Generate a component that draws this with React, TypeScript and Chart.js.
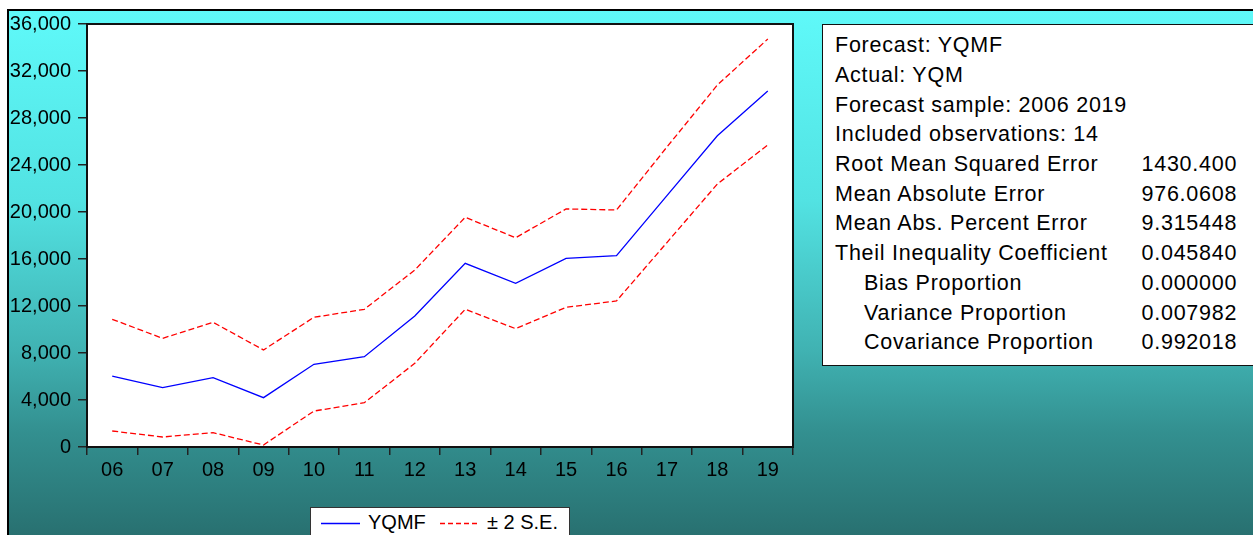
import React, { useEffect, useRef } from "react";
import { Chart, registerables } from "chart.js";

Chart.register(...registerables);

// ---- data ----
const xLabels = ["06", "07", "08", "09", "10", "11", "12", "13", "14", "15", "16", "17", "18", "19"];
const yqmf = [6040, 5050, 5900, 4200, 7040, 7690, 11150, 15630, 13930, 16060, 16280, 21390, 26490, 30300];
const upperSE = [10870, 9250, 10610, 8260, 11040, 11720, 15060, 19550, 17810, 20260, 20170, 25530, 30810, 34720];
const lowerSE = [1360, 850, 1220, 170, 3060, 3770, 7120, 11720, 10070, 11890, 12430, 17400, 22380, 25700];
const yTicks = [0, 4000, 8000, 12000, 16000, 20000, 24000, 28000, 32000, 36000];

const headerLines = [
  "Forecast: YQMF",
  "Actual: YQM",
  "Forecast sample: 2006 2019",
  "Included observations: 14",
];
const statLabels = [
  "Root Mean Squared Error",
  "Mean Absolute Error",
  "Mean Abs. Percent Error",
  "Theil Inequality Coefficient",
  "Bias Proportion",
  "Variance Proportion",
  "Covariance Proportion",
];
const statValues = ["1430.400", "976.0608", "9.315448", "0.045840", "0.000000", "0.007982", "0.992018"];
const statIndented = [false, false, false, false, true, true, true];

const legendLabels = ["YQMF", "± 2 S.E."];

const FONT = "'Liberation Sans', Arial, sans-serif";

const framePlugin = {
  id: "frame",
  beforeDraw(chart: any) {
    const { ctx, chartArea } = chart;
    const { left, top, right, bottom } = chartArea;
    ctx.save();
    ctx.fillStyle = "#ffffff";
    ctx.fillRect(left, top, right - left, bottom - top);
    ctx.restore();
  },
  afterDatasetsDraw(chart: any) {
    const { ctx, chartArea } = chart;
    const { left, top, right, bottom } = chartArea;
    ctx.save();
    ctx.strokeStyle = "#111";
    ctx.lineWidth = 2;
    ctx.strokeRect(left, top, right - left, bottom - top);
    ctx.restore();
  },
};

export default function App() {
  const canvasRef = useRef<HTMLCanvasElement | null>(null);

  useEffect(() => {
    if (!canvasRef.current) return;
    const chart = new Chart(canvasRef.current, {
      type: "line",
      data: {
        labels: xLabels,
        datasets: [
          {
            label: legendLabels[0],
            data: yqmf,
            borderColor: "#0000ff",
            borderWidth: 1.3,
            pointRadius: 0,
            tension: 0,
            fill: false,
          },
          {
            label: legendLabels[1],
            data: upperSE,
            borderColor: "#ff0000",
            borderWidth: 1.3,
            borderDash: [6, 3],
            pointRadius: 0,
            tension: 0,
            fill: false,
          },
          {
            label: "lower",
            data: lowerSE,
            borderColor: "#ff0000",
            borderWidth: 1.3,
            borderDash: [6, 3],
            pointRadius: 0,
            tension: 0,
            fill: false,
          },
        ],
      },
      options: {
        responsive: false,
        maintainAspectRatio: false,
        animation: false,
        devicePixelRatio: 1,
        layout: { padding: { left: 0, top: 24, right: 460, bottom: 0 } },
        plugins: {
          legend: { display: false },
          tooltip: { enabled: false },
          title: { display: false },
        },
        scales: {
          x: {
            type: "category",
            offset: true,
            grid: {
              offset: true,
              drawOnChartArea: false,
              drawTicks: true,
              tickLength: 8,
              color: "#222",
              lineWidth: 1.5,
            },
            border: { display: false },
            ticks: {
              autoSkip: false,
              maxRotation: 0,
              padding: 3,
              color: "#000",
              font: { family: FONT, size: 20 },
            },
            afterFit: (scale: any) => {
              scale.height = 88;
            },
          },
          y: {
            min: 0,
            max: 36000,
            afterBuildTicks: (scale: any) => {
              scale.ticks = yTicks.map((v) => ({ value: v }));
            },
            grid: {
              drawOnChartArea: false,
              drawTicks: true,
              tickLength: 9,
              color: "#222",
              lineWidth: 1.5,
            },
            border: { display: false },
            ticks: {
              padding: 7,
              color: "#000",
              font: { family: FONT, size: 20 },
              callback: (v: any) => Number(v).toLocaleString("en-US"),
            },
            afterFit: (scale: any) => {
              scale.width = 87;
            },
          },
        },
      },
      plugins: [framePlugin],
    });
    return () => chart.destroy();
  }, []);

  const lineH = 29.7;
  const allLines = [
    ...headerLines.map((t) => ({ label: t, value: "", indent: false })),
    ...statLabels.map((t, i) => ({ label: t, value: statValues[i], indent: statIndented[i] })),
  ];

  const textStyle = {
    position: "absolute" as const,
    height: lineH,
    lineHeight: lineH + "px",
    fontSize: 21.5,
    letterSpacing: "0.75px",
    color: "#000",
    whiteSpace: "nowrap" as const,
  };

  return (
    <div
      style={{
        position: "fixed",
        left: 0,
        top: 0,
        width: 1253,
        height: 535,
        overflow: "hidden",
        background: "#ffffff",
        fontFamily: FONT,
      }}
    >
      <div
        style={{
          position: "absolute",
          left: 7,
          top: 9,
          width: 1260,
          height: 540,
          borderTop: "2px solid #000",
          borderLeft: "2px solid #000",
          background:
            "linear-gradient(to bottom, #5ff9f9 0px, #52e2e2 190px, #40b2b2 340px, #339090 420px, #287070 526px)",
        }}
      />
      <canvas
        ref={canvasRef}
        width={1253}
        height={535}
        style={{ position: "absolute", left: 0, top: 0, width: 1253, height: 535 }}
      />
      {/* statistics box */}
      <div
        style={{
          position: "absolute",
          left: 822,
          top: 24,
          width: 450,
          height: 340,
          background: "#fff",
          border: "1px solid #111",
        }}
      />
      {allLines.map((ln, i) => (
        <React.Fragment key={i}>
          <div style={{ ...textStyle, left: ln.indent ? 864 : 835, top: 31.2 + lineH * i }}>{ln.label}</div>
          {ln.value ? (
            <div style={{ ...textStyle, left: 1141.5, top: 31.2 + lineH * i }}>{ln.value}</div>
          ) : null}
        </React.Fragment>
      ))}
      {/* legend box */}
      <div
        style={{
          position: "absolute",
          left: 310,
          top: 507,
          width: 258,
          height: 40,
          background: "#fff",
          border: "1px solid #333",
        }}
      />
      <svg style={{ position: "absolute", left: 0, top: 500, overflow: "visible" }} width={1} height={1}>
        <line x1={321} y1={23.5} x2={360} y2={23.5} stroke="#0000ff" strokeWidth={1.3} />
        <line x1={440} y1={23.5} x2={479} y2={23.5} stroke="#ff0000" strokeWidth={1.3} strokeDasharray="5 3" />
      </svg>
      <div style={{ position: "absolute", left: 368, top: 512, fontSize: 20, lineHeight: "20px", color: "#000", whiteSpace: "nowrap" }}>
        {legendLabels[0]}
      </div>
      <div style={{ position: "absolute", left: 487, top: 512, fontSize: 20, lineHeight: "20px", color: "#000", whiteSpace: "nowrap" }}>
        {legendLabels[1]}
      </div>
    </div>
  );
}
